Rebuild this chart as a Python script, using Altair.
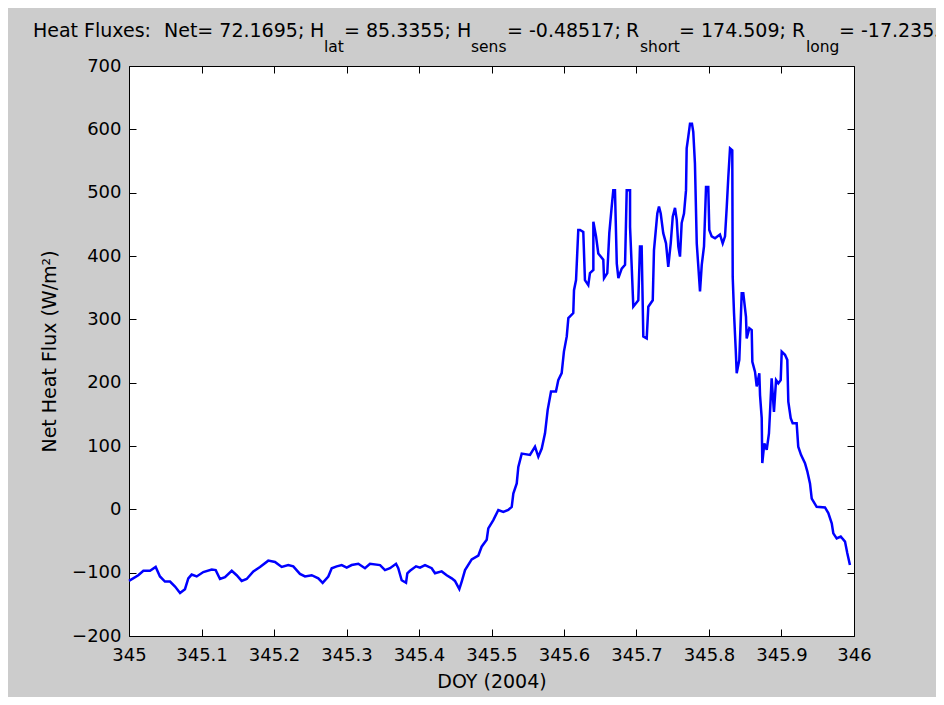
import altair as alt
import pandas as pd

doy = [
    345.0000, 345.0128, 345.0198, 345.0290, 345.0368, 345.0427, 345.0496, 345.0566,
    345.0635, 345.0704, 345.0772, 345.0818, 345.0864, 345.0934, 345.1025, 345.1141,
    345.1196, 345.1255, 345.1324, 345.1417, 345.1485, 345.1554, 345.1623, 345.1715,
    345.1807, 345.1921, 345.2014, 345.2106, 345.2197, 345.2266, 345.2358, 345.2428,
    345.2520, 345.2611, 345.2671, 345.2749, 345.2796, 345.2865, 345.2934, 345.3003,
    345.3071, 345.3163, 345.3255, 345.3324, 345.3463, 345.3531, 345.3600, 345.3683,
    345.3714, 345.3761, 345.3821, 345.3839, 345.3876, 345.3959, 345.4014, 345.4083,
    345.4175, 345.4221, 345.4313, 345.4382, 345.4451, 345.4496, 345.4556, 345.4589,
    345.4635, 345.4727, 345.4818, 345.4864, 345.4934, 345.4956, 345.5025, 345.5094,
    345.5163, 345.5231, 345.5279, 345.5301, 345.5348, 345.5370, 345.5417, 345.5531,
    345.5600, 345.5646, 345.5693, 345.5738, 345.5775, 345.5821, 345.5889, 345.5921,
    345.5968, 345.5999, 345.6038, 345.6060, 345.6128, 345.6138, 345.6166, 345.6197,
    345.6221, 345.6266, 345.6289, 345.6335, 345.6358, 345.6405, 345.6405, 345.6442,
    345.6473, 345.6542, 345.6552, 345.6597, 345.6625, 345.6658, 345.6680, 345.6703,
    345.6728, 345.6750, 345.6796, 345.6842, 345.6865, 345.6911, 345.6911, 345.6934,
    345.6956, 345.7025, 345.7048, 345.7071, 345.7094, 345.7141, 345.7163, 345.7224,
    345.7241, 345.7287, 345.7310, 345.7334, 345.7369, 345.7407, 345.7438, 345.7472,
    345.7500, 345.7531, 345.7555, 345.7577, 345.7600, 345.7623, 345.7655, 345.7683,
    345.7692, 345.7714, 345.7738, 345.7765, 345.7783, 345.7806, 345.7831, 345.7853,
    345.7876, 345.7900, 345.7931, 345.7959, 345.7990, 345.8004, 345.8037, 345.8083,
    345.8151, 345.8189, 345.8221, 345.8244, 345.8266, 345.8290, 345.8321, 345.8327,
    345.8345, 345.8368, 345.8382, 345.8418, 345.8451, 345.8473, 345.8510, 345.8520,
    345.8556, 345.8589, 345.8598, 345.8635, 345.8658, 345.8694, 345.8704, 345.8727,
    345.8735, 345.8763, 345.8796, 345.8827, 345.8841, 345.8864, 345.8896, 345.8925,
    345.8956, 345.8989, 345.9003, 345.9048, 345.9080, 345.9094, 345.9127, 345.9154,
    345.9209, 345.9231, 345.9269, 345.9324, 345.9356, 345.9393, 345.9417, 345.9485,
    345.9600, 345.9646, 345.9693, 345.9715, 345.9761, 345.9817, 345.9876, 345.9907,
    345.9944,
]

flux = [
    -113, -104, -97, -97, -91, -106, -114, -114,
    -122, -132, -126, -109, -103, -106, -99, -95,
    -96, -110, -107, -97, -104, -113, -110, -98,
    -91, -81, -83, -91, -88, -90, -102, -106,
    -104, -109, -116, -106, -93, -90, -88, -92,
    -88, -86, -93, -86, -88, -96, -93, -86,
    -93, -112, -116, -101, -97, -90, -92, -88,
    -93, -101, -98, -104, -109, -113, -126, -114,
    -96, -79, -73, -59, -48, -30, -17, -1,
    -4, -1, 4, 25, 41, 67, 88, 86,
    99, 83, 96, 120, 157, 186, 186, 204,
    215, 249, 273, 302, 310, 346, 362, 441,
    441, 438, 362, 354, 373, 378, 454, 431,
    404, 394, 365, 373, 436, 478, 504, 504,
    388, 365, 380, 386, 504, 504, 446, 383,
    320, 330, 415, 415, 273, 270, 320, 330,
    409, 467, 478, 467, 436, 420, 383, 420,
    462, 476, 457, 415, 399, 452, 467, 504,
    570, 588, 609, 609, 596, 546, 420, 383,
    344, 386, 415, 509, 509, 441, 431, 428,
    434, 420, 431, 476, 524, 570, 567, 367,
    310, 254, 215, 236, 341, 341, 304, 270,
    286, 283, 233, 217, 194, 215, 180, 144,
    73, 104, 94, 120, 152, 207, 154, 204,
    199, 204, 249, 244, 236, 170, 144, 136,
    136, 99, 86, 73, 60, 41, 17, 4,
    3, -6, -22, -38, -46, -43, -51, -69,
    -88,
]

x_ticks = [345, 345.1, 345.2, 345.3, 345.4, 345.5, 345.6, 345.7, 345.8, 345.9, 346]
y_ticks = [-200, -100, 0, 100, 200, 300, 400, 500, 600, 700]

df = pd.DataFrame({"doy": doy, "flux": flux, "step": range(len(doy))})

W, H = 725, 570
FONT = "DejaVu Sans"
TXT = dict(font=FONT, color="black")

x_scale = alt.Scale(domain=[345, 346], nice=False, zero=False)
y_scale = alt.Scale(domain=[-200, 700], nice=False, zero=False)

common = dict(grid=False, domain=False, labelFont=FONT, titleFont=FONT,
              labelColor="black", titleColor="black", labelFontSize=18,
              titleFontSize=19, titleFontWeight="normal", tickColor="black",
              tickWidth=1, tickSize=7)


def line_layer(xaxis, yaxis, opacity):
    return (
        alt.Chart(df)
        .mark_line(color="#0000ff", strokeWidth=2.5, opacity=opacity)
        .encode(
            x=alt.X("doy:Q", scale=x_scale, axis=xaxis),
            y=alt.Y("flux:Q", scale=y_scale, axis=yaxis),
            order="step:Q",
        )
    )


# labels + titles
labels = line_layer(
    alt.Axis(orient="bottom", values=x_ticks, format=".4~r", title="DOY (2004)",
             ticks=False, labelPadding=10, titlePadding=8, labelFlush=False, **common),
    alt.Axis(orient="left", values=y_ticks, title="Net Heat Flux (W/m²)",
             ticks=False, labelPadding=8, titlePadding=12, **common),
    1,
)
# inward ticks on bottom / left
ticks_a = line_layer(
    alt.Axis(orient="top", offset=-H, values=x_ticks, labels=False, title="", **common),
    alt.Axis(orient="right", offset=-W, values=y_ticks, labels=False, title="", **common),
    0,
)
# inward ticks on top / right
ticks_b = line_layer(
    alt.Axis(orient="bottom", offset=-H, values=x_ticks, labels=False, title="", **common),
    alt.Axis(orient="left", offset=-W, values=y_ticks, labels=False, title="", **common),
    0,
)

one = pd.DataFrame({"k": [0]})


def piece(txt, x, y, size=19):
    return (
        alt.Chart(one)
        .mark_text(text=txt, align="left", baseline="alphabetic", fontSize=size, **TXT)
        .encode(x=alt.value(x), y=alt.value(y))
    )


base_y, sub_y = -29, -14
title = [
    piece("Heat Fluxes:", -96, base_y),
    piece("Net= 72.1695;", 35, base_y),
    piece("H", 181, base_y),
    piece("lat", 195, sub_y, 15.5),
    piece("= 85.3355;", 215, base_y),
    piece("H", 328, base_y),
    piece("sens", 342, sub_y, 15.5),
    piece("= -0.48517;", 378, base_y),
    piece("R", 497, base_y),
    piece("short", 511, sub_y, 15.5),
    piece("= 174.509;", 550, base_y),
    piece("R", 663, base_y),
    piece("long", 677, sub_y, 15.5),
    piece("= -17.2355", 710, base_y),
]

chart = (
    alt.layer(labels, ticks_a, ticks_b, *title)
    .resolve_axis(x="independent", y="independent")
    .properties(
        width=W,
        height=H,
        autosize=alt.AutoSizeParams(type="none"),
        padding={"left": 121, "top": 58, "right": 82, "bottom": 61},
        background="#cccccc",
    )
    .configure_view(fill="white", stroke="black", strokeWidth=1)
)

chart.save("out.html", embed_options={"renderer": "svg", "actions": False})
